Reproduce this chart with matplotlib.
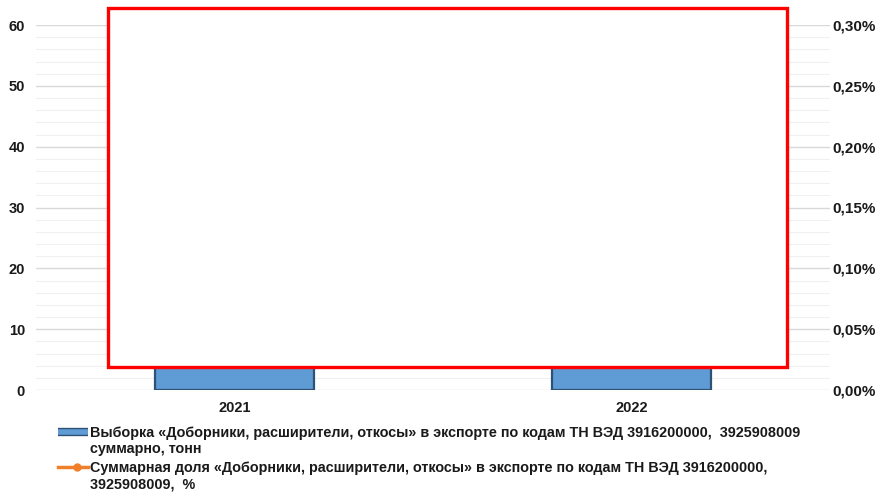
import matplotlib.pyplot as plt
import matplotlib.patches as mpatches
import matplotlib.patheffects as pe
from matplotlib.lines import Line2D
from matplotlib.ticker import MultipleLocator, FuncFormatter

plt.rcParams['font.family'] = ['Liberation Sans', 'DejaVu Sans']
plt.rcParams['font.weight'] = 'bold'

years = ['2021', '2022']
tonnes = [24.0, 19.0]
share_pct = [0.12, 0.09]

label_bar = ('Выборка «Доборники, расширители, откосы» в экспорте по кодам ТН ВЭД 3916200000,  3925908009\n'
             'суммарно, тонн')
label_line = ('Суммарная доля «Доборники, расширители, откосы» в экспорте по кодам ТН ВЭД 3916200000,\n'
              '3925908009,  %')

bar_color = '#5f9bd4'
bar_edge = '#2f5274'
line_color = '#f07f2a'
text_color = '#1a1a1a'

W, H = 882, 492
fig = plt.figure(figsize=(W / 100, H / 100), dpi=100)
ax = fig.add_axes([36 / W, 1 - 390 / H, 794 / W, 365 / H])
ax2 = ax.twinx()

x = list(range(len(years)))
ax.bar(x, tonnes, width=0.40, color=bar_color, edgecolor=bar_edge, linewidth=1.6, zorder=3)
ax.set_xlim(-0.5, 1.5)
ax.set_ylim(0, 60)
ax.yaxis.set_major_locator(MultipleLocator(10))
ax.yaxis.set_minor_locator(MultipleLocator(2))
ax.grid(which='major', axis='y', color='#d9d9d9', linewidth=1.0, zorder=0)
ax.grid(which='minor', axis='y', color='#f0f0f0', linewidth=0.8, zorder=0)
ax.set_axisbelow(True)
ax.set_xticks(x)
ax.set_xticklabels(years)

ax2.plot(x, share_pct, color=line_color, linewidth=2.2, marker='o', markersize=5, zorder=4)
ax2.set_ylim(0, 0.30)
ax2.yaxis.set_major_locator(MultipleLocator(0.05))
ax2.yaxis.set_major_formatter(FuncFormatter(lambda v, p: f'{v:.2f}%'.replace('.', ',')))

for a in (ax, ax2):
    for s in a.spines.values():
        s.set_visible(False)
    a.tick_params(which='both', length=0, labelsize=10.5, colors=text_color)
ax2.tick_params(labelsize=11)
ax.tick_params(axis='y', pad=8)
ax.tick_params(axis='x', pad=8)
ax2.tick_params(axis='y', pad=2)

# frame drawn over the plot area
frame = mpatches.Rectangle((108 / W, 1 - 367 / H), 679 / W, 359 / H,
                           transform=fig.transFigure, facecolor='white',
                           edgecolor='#ff0000', linewidth=2.4, zorder=10)
fig.patches.append(frame)

# legend, drawn by hand so each key sits on the first line of its label
def fy(py):
    return 1 - py / H

fig.add_artist(Line2D([58 / W, 88 / W], [fy(432), fy(432)], color=bar_color, linewidth=4,
                      solid_capstyle='butt',
                      path_effects=[pe.Stroke(linewidth=6, foreground=bar_edge), pe.Normal()]))
fig.text(90 / W, fy(426), label_bar, fontsize=10.35, color=text_color, va='top', ha='left',
         linespacing=1.2)
fig.add_artist(Line2D([58 / W, 88 / W], [fy(467), fy(467)], color=line_color, linewidth=2.5))
fig.add_artist(Line2D([77 / W], [fy(467)], color=line_color, marker='o', markersize=5,
                      linestyle='none'))
fig.text(90 / W, fy(461), label_line, fontsize=10.35, color=text_color, va='top', ha='left',
         linespacing=1.2)

fig.savefig('out.png', dpi=100)
